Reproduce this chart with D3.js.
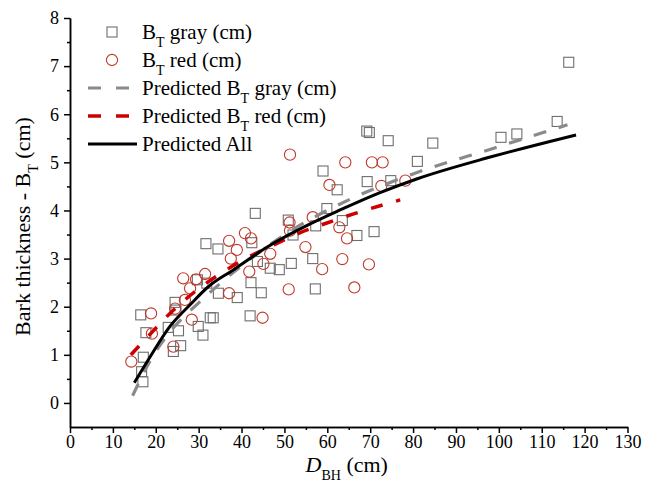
<!DOCTYPE html>
<html>
<head>
<meta charset="utf-8">
<script src="https://cdn.jsdelivr.net/npm/d3@7"></script>
<style>
  body { margin: 0; background: #fff; }
  .axis path, .axis line { stroke: #000; stroke-width: 1.5; }
</style>
</head>
<body>
<script>
// values: [DBH (cm), bark thickness (cm)]
const grayPoints = [
  [116.3,7.08],[113.6,5.85],[104.2,5.59],[100.5,5.52],[84.6,5.40],[81.0,5.02],
  [69.2,5.65],[69.8,5.62],[74.2,5.45],[59.0,4.82],[62.3,4.43],[69.3,4.60],
  [74.8,4.62],[59.9,4.04],[57.3,3.68],[63.5,3.79],[66.9,3.48],[70.9,3.56],
  [56.6,3.00],[57.2,2.37],[43.2,3.94],[31.7,3.31],[34.5,3.20],[50.9,3.80],
  [52.0,3.49],[42.4,3.33],[43.7,2.94],[46.7,2.80],[48.8,2.77],[51.6,2.90],
  [42.2,2.50],[44.6,2.29],[34.6,2.28],[39.0,2.19],[32.7,1.77],[33.4,1.77],
  [42.0,1.81],[16.5,1.83],[17.7,1.46],[22.9,1.57],[25.3,1.50],[24.5,2.09],
  [24.7,1.93],[29.7,2.56],[31.9,2.49],[29.9,1.59],[31.0,1.41],[24.1,1.07],
  [25.8,1.19],[17.1,0.95],[16.7,0.65],[17.0,0.44]
];
const redPoints = [
  [51.3,5.16],[64.2,5.00],[70.4,5.00],[72.9,5.00],[60.5,4.53],[72.6,4.51],
  [78.2,4.62],[56.6,3.86],[62.8,3.65],[64.6,3.42],[54.9,3.24],[63.5,2.99],
  [58.8,2.78],[69.7,2.88],[66.3,2.40],[37.1,3.37],[38.9,3.18],[37.5,3.00],
  [40.8,3.53],[42.2,3.42],[51.2,3.75],[51.3,3.58],[46.7,3.10],[45.1,2.89],
  [41.8,2.73],[31.5,2.68],[37.1,2.28],[51.0,2.36],[44.9,1.77],[18.9,1.86],
  [19.1,1.44],[14.3,0.86],[24.1,1.17],[24.5,1.96],[26.8,2.14],[28.4,1.73],
  [26.4,2.59],[28.0,2.38],[29.4,2.57]
];
// fitted curves
const predGray = [
  [14.6,0.15],[18.7,0.88],[24,1.55],[30,2.08],[40,2.85],[51,3.55],
  [65,4.22],[80,4.76],[99,5.30],[116,5.78]
];
const predRed = [
  [14.2,1.00],[18.7,1.43],[23.3,1.86],[28.8,2.29],[34.6,2.66],[42,3.05],
  [47.4,3.28],[53.7,3.54],[59.9,3.74],[66.5,3.94],[73.1,4.12],[77,4.22]
];
const predAll = [
  [15,0.42],[18.7,0.96],[23.3,1.59],[28,2.04],[32.3,2.42],[38,2.76],
  [46,3.24],[56,3.72],[63,4.01],[72,4.36],[81,4.66],[98,5.11],[118,5.57]
];
const xTicks = d3.range(0, 131, 10);
const yTicks = d3.range(0, 9, 1);

const W = 646, H = 489;
const FONT = "'Liberation Serif', 'Times New Roman', 'DejaVu Serif', serif";
const x = d3.scaleLinear().domain([0, 130]).range([70, 627.5]);
const y = d3.scaleLinear().domain([-0.5, 8]).range([427, 18]);

const svg = d3.select('body').append('svg')
  .attr('width', W).attr('height', H)
  .attr('font-family', FONT);

// axes
function styleAxis(g) {
  g.attr('font-family', FONT).attr('font-size', 18);
  g.selectAll('text').attr('fill', '#000');
}
svg.append('g').attr('class', 'axis')
  .attr('transform', `translate(0,${y(-0.5)})`)
  .call(d3.axisBottom(x).tickValues(d3.range(5, 130, 10)).tickFormat('').tickSize(3).tickSizeOuter(0));
svg.append('g').attr('class', 'axis')
  .attr('transform', `translate(0,${y(-0.5)})`)
  .call(d3.axisBottom(x).tickValues(xTicks).tickSize(6).tickSizeOuter(0).tickPadding(2))
  .call(styleAxis);

svg.append('g').attr('class', 'axis')
  .attr('transform', `translate(${x(0)},0)`)
  .call(d3.axisLeft(y).tickValues(d3.range(0.5, 8, 1)).tickFormat('').tickSize(3).tickSizeOuter(0));
svg.append('g').attr('class', 'axis')
  .attr('transform', `translate(${x(0)},0)`)
  .call(d3.axisLeft(y).tickValues(yTicks).tickSize(6).tickSizeOuter(0).tickPadding(5))
  .call(styleAxis);

// axis titles
const yt = svg.append('text')
  .attr('transform', `translate(30,${(y(8) + y(-0.5)) / 2 + 4}) rotate(-90)`)
  .attr('text-anchor', 'middle').attr('font-size', 22);
yt.append('tspan').text('Bark thickness - B');
yt.append('tspan').attr('font-size', 14).attr('baseline-shift', 'sub').text('T');
yt.append('tspan').text(' (cm)');

const xt = svg.append('text')
  .attr('x', (x(0) + x(130)) / 2 - 2).attr('y', 472)
  .attr('text-anchor', 'middle').attr('font-size', 22);
xt.append('tspan').attr('font-style', 'italic').text('D');
xt.append('tspan').attr('font-size', 14).attr('baseline-shift', 'sub').text('BH');
xt.append('tspan').text(' (cm)');

// markers
svg.append('g').selectAll('rect')
  .data(grayPoints).join('rect')
  .attr('x', d => x(d[0]) - 5).attr('y', d => y(d[1]) - 5)
  .attr('width', 10).attr('height', 10)
  .attr('fill', 'none').attr('stroke', '#6e6e6e').attr('stroke-width', 1.1);

svg.append('g').selectAll('circle')
  .data(redPoints).join('circle')
  .attr('cx', d => x(d[0])).attr('cy', d => y(d[1])).attr('r', 5.6)
  .attr('fill', 'none').attr('stroke', '#c0392b').attr('stroke-width', 1.1);

// curves
const line = d3.line().x(d => x(d[0])).y(d => y(d[1])).curve(d3.curveMonotoneX);
svg.append('path').datum(predGray).attr('d', line)
  .attr('fill', 'none').attr('stroke', '#8a8a8a').attr('stroke-width', 3.2)
  .attr('stroke-dasharray', '13,13');
svg.append('path').datum(predRed).attr('d', line)
  .attr('fill', 'none').attr('stroke', '#cc0000').attr('stroke-width', 3.5)
  .attr('stroke-dasharray', '12,14');
svg.append('path').datum(predAll).attr('d', line)
  .attr('fill', 'none').attr('stroke', '#000').attr('stroke-width', 3);

// legend
const legend = [
  { type: 'square', label: ['B', 'T', ' gray (cm)'] },
  { type: 'circle', label: ['B', 'T', ' red (cm)'] },
  { type: 'gray', label: ['Predicted B', 'T', ' gray (cm)'] },
  { type: 'red', label: ['Predicted B', 'T', ' red (cm)'] },
  { type: 'all', label: ['Predicted All', '', ''] }
];
const lg = svg.append('g');
legend.forEach((d, i) => {
  const cy = 32 + i * 28;
  if (d.type === 'square') {
    lg.append('rect').attr('x', 107).attr('y', cy - 5).attr('width', 10).attr('height', 10)
      .attr('fill', 'none').attr('stroke', '#6e6e6e').attr('stroke-width', 1.1);
  } else if (d.type === 'circle') {
    lg.append('circle').attr('cx', 112).attr('cy', cy).attr('r', 5.6)
      .attr('fill', 'none').attr('stroke', '#c0392b').attr('stroke-width', 1.1);
  } else {
    const st = { gray: ['#8a8a8a', 3.2, '13,15'], red: ['#cc0000', 3.5, '13,15'], all: ['#000', 3, null] }[d.type];
    lg.append('line').attr('x1', 88).attr('x2', 137).attr('y1', cy).attr('y2', cy)
      .attr('stroke', st[0]).attr('stroke-width', st[1])
      .attr('stroke-dasharray', st[2]);
  }
  const t = lg.append('text').attr('x', 142).attr('y', cy + 7).attr('font-size', 21);
  t.append('tspan').text(d.label[0]);
  if (d.label[1]) {
    t.append('tspan').attr('font-size', 14).attr('baseline-shift', 'sub').text(d.label[1]);
    t.append('tspan').text(d.label[2]);
  }
});
</script>
</body>
</html>
